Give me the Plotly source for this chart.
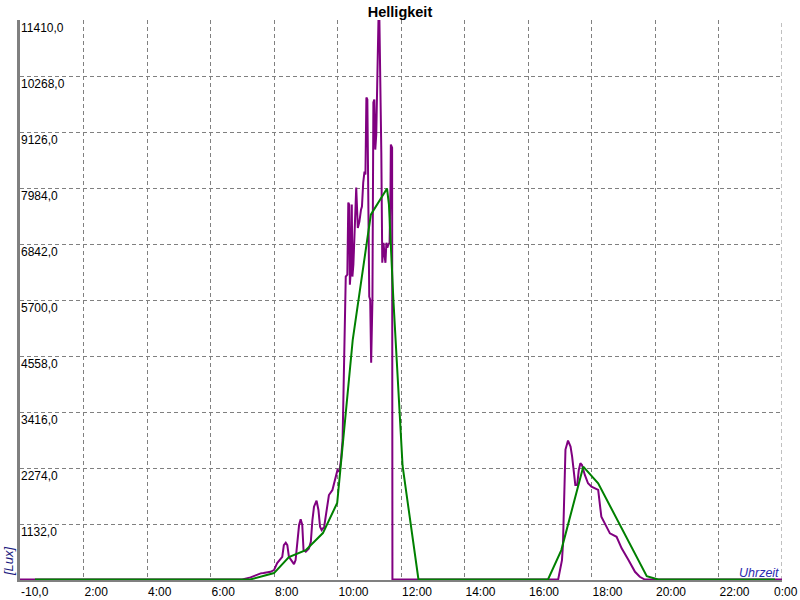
import plotly.graph_objects as go

# ---- data (hours of day, lux) ----
purple_hours = [0.0, 7.0, 7.26, 7.45, 7.58, 7.67, 7.89, 8.0, 8.10, 8.26, 8.31, 8.37, 8.42, 8.47,
                8.53, 8.63, 8.68, 8.74, 8.79, 8.84, 8.89, 8.93, 9.0, 9.10, 9.16, 9.21, 9.26, 9.34,
                9.40, 9.45, 9.50, 9.58, 9.63, 9.73, 9.84, 9.89, 9.95, 10.0, 10.06, 10.11, 10.16,
                10.18, 10.21, 10.23, 10.25, 10.26, 10.31, 10.34, 10.37, 10.39, 10.42, 10.45, 10.47,
                10.50, 10.55, 10.59, 10.64, 10.69, 10.74, 10.77, 10.81, 10.85, 10.88, 10.91, 10.94,
                10.97, 11.00, 11.03, 11.06, 11.10, 11.13, 11.16, 11.19, 11.22, 11.26, 11.29, 11.32,
                11.34, 11.35, 11.38, 11.41, 11.45, 11.48, 11.51, 11.54, 11.57, 11.60, 11.64, 11.67,
                11.68, 11.72, 11.73, 16.95, 17.03, 17.07, 17.10, 17.13, 17.18, 17.26, 17.34, 17.39,
                17.45, 17.49, 17.55, 17.60, 17.65, 17.70, 17.79, 17.89, 18.00, 18.10, 18.21, 18.31,
                18.42, 18.58, 18.79, 18.95, 19.16, 19.37, 19.52, 19.68, 24.0]
purple_lux = [0, 0, 43, 100, 125, 131, 157, 192, 335, 464, 702, 749, 702, 464,
              396, 314, 396, 743, 1111, 1227, 1111, 600, 566, 635, 770, 1213, 1485, 1607,
              1417, 1076, 1009, 1076, 1280, 1723, 1826, 1962, 2097, 2234, 2199, 2438, 2847,
              3459, 4010, 4541, 5705, 6177, 6216, 7686, 7645, 6012, 6318, 7645, 6177,
              6420, 7278, 7993, 7170, 7298, 7543, 7604, 8094, 8318, 8257, 9830, 9788,
              8257, 5767, 5705, 4419, 5705, 9727, 9788, 8767, 9073, 10605, 11402, 11402,
              10605, 10155, 8706, 6459, 6867, 6622, 6459, 6867, 6765, 6826, 6867, 8012,
              8870, 8808, 0, 0, 227, 396, 700, 1500, 2650, 2832, 2710, 2505,
              2166, 1928, 1928, 2234, 2370, 2336, 2132, 1962, 1893, 1860, 1826, 1280,
              1146, 941, 872, 635, 403, 157, 55, 0, 0]

green_hours = [0.47, 7.25, 8.0, 8.47, 9.0, 9.54, 9.99, 10.48, 11.05, 11.56, 11.62, 11.76,
               12.05, 12.55, 16.63, 17.05, 17.74, 18.21, 19.74, 20.1, 23.78]
green_lux = [0, 0, 131, 457, 600, 947, 1560, 4889, 7441, 7972, 7645, 5705,
             2316, 0, 0, 600, 2301, 1962, 69, 0, 0]

y_ticks = [-10, 1132, 2274, 3416, 4558, 5700, 6842, 7984, 9126, 10268, 11410]
y_tick_labels = ["-10,0", "1132,0", "2274,0", "3416,0", "4558,0", "5700,0",
                 "6842,0", "7984,0", "9126,0", "10268,0", "11410,0"]
x_ticks = [2, 4, 6, 8, 10, 12, 14, 16, 18, 20, 22, 24]
x_tick_labels = ["2:00", "4:00", "6:00", "8:00", "10:00", "12:00", "14:00",
                 "16:00", "18:00", "20:00", "22:00", "0:00"]

FONT = "Liberation Sans, Arial, sans-serif"
FS = 12
GRID = "#808080"

fig = go.Figure()
fig.add_trace(go.Scatter(x=purple_hours, y=purple_lux, mode="lines",
                         line=dict(color="#800080", width=2), hoverinfo="skip"))
fig.add_trace(go.Scatter(x=green_hours, y=green_lux, mode="lines",
                         line=dict(color="#008000", width=2), hoverinfo="skip"))

fig.update_layout(
    width=800, height=600,
    margin=dict(l=20, r=18, t=20, b=20, autoexpand=False),
    paper_bgcolor="white", plot_bgcolor="white",
    showlegend=False,
    font=dict(family=FONT, size=FS, color="black"),
    title=dict(text="Helligkeit", x=0.5, xanchor="center", y=1 - 11.5 / 600, yanchor="middle",
               font=dict(family=FONT, size=14.5, color="black", weight="bold")),
)
fig.update_xaxes(range=[0, 24], tickvals=x_ticks[:-1], ticktext=x_tick_labels[:-1],
                 showgrid=True, gridcolor=GRID, gridwidth=1, griddash="4px,3px",
                 showline=True, linecolor=GRID, linewidth=2, ticks="", automargin=False,
                 ticklabelposition="outside right", zeroline=False, layer="below traces",
                 tickfont=dict(family=FONT, size=FS, color="black"))
fig.update_yaxes(range=[-10, 11410], tickvals=y_ticks, showticklabels=False, automargin=False,
                 showgrid=True, gridcolor=GRID, gridwidth=1, griddash="4px,3px",
                 showline=True, linecolor=GRID, linewidth=3, ticks="",
                 zeroline=False, layer="below traces")

# right-edge grid line (24:00) drawn as dashed vertical
fig.add_vline(x=x_ticks[-1], line=dict(color=GRID, width=1, dash="4px,3px"), layer="below")

annotations = []
for v, t in zip(y_ticks, y_tick_labels):
    annotations.append(dict(x=0, xref="paper", xanchor="left", xshift=-1,
                            y=v, yref="y", yanchor="top", yshift=(-3 if v < 0 else 1),
                            text=t, showarrow=False,
                            font=dict(family=FONT, size=FS, color="black")))
annotations.append(dict(x=1.0, xref="paper", xanchor="right", xshift=18,
                        y=0, yref="paper", yanchor="top", yshift=-3,
                        text=x_tick_labels[-1], showarrow=False,
                        font=dict(family=FONT, size=FS, color="black")))
annotations.append(dict(x=-12 / 762, xref="paper", xanchor="center",
                        y=19 / 560, yref="paper", yanchor="middle",
                        text="[Lux]", textangle=-90, showarrow=False,
                        font=dict(family=FONT, size=13, color="#1a1a80", style="italic")))
annotations.append(dict(x=1.0, xref="paper", xanchor="right", xshift=-1,
                        y=0.0, yref="paper", yanchor="bottom", yshift=-2,
                        text="Uhrzeit", showarrow=False,
                        font=dict(family=FONT, size=12.5, color="#2a2ab0", style="italic")))
fig.update_layout(annotations=annotations)

fig.write_html("out.html", config={"displayModeBar": False},
               post_script="document.body.style.margin='0';")
